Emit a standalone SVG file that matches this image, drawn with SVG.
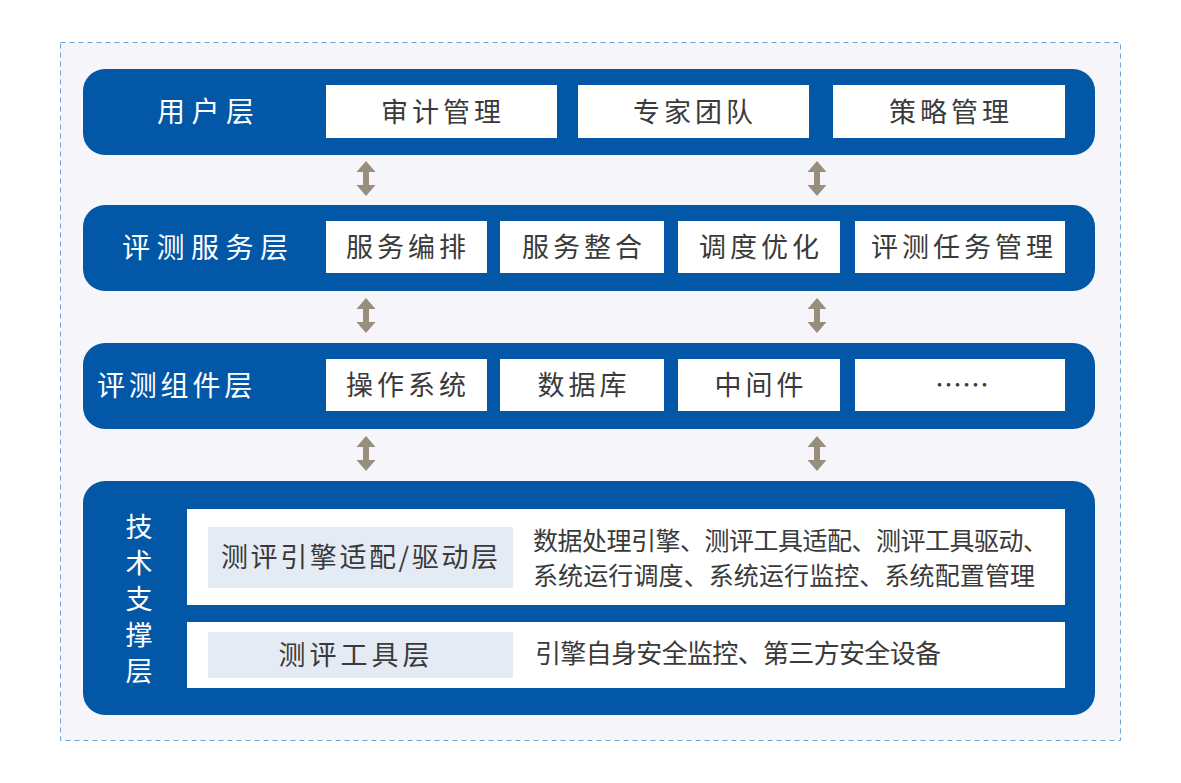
<svg xmlns="http://www.w3.org/2000/svg" width="1181" height="783" viewBox="0 0 1181 783">
<style>
.panel{fill:#0257a7;}
.box{fill:#ffffff;}
.lbox{fill:#e4ebf5;}
.t{font-family:"Noto Sans CJK SC","Noto Sans",sans-serif;}
.title{fill:#ffffff;font-size:28px;}
.bt{fill:#3a3a3a;font-size:27px;letter-spacing:4px;text-anchor:middle;}
.st{fill:#3a3a3a;font-size:25px;}
.arr{fill:#978e7c;}
</style>
<defs>
<path id="dbl" d="M0,0 L9.5,11 L3,11 L3,24 L9.5,24 L0,35 L-9.5,24 L-3,24 L-3,11 L-9.5,11 Z"/>
</defs>
<rect x="60.5" y="42.5" width="1060" height="698" fill="#f5f5fa" stroke="#6aa3d8" stroke-width="1" stroke-dasharray="5,4"/>

<g id="layer-user">
<rect class="panel" x="83" y="69" width="1012" height="86" rx="22"/>
<text class="t title" x="157" y="122" style="letter-spacing:6.5px">用户层</text>
<rect class="box" x="326" y="85" width="231" height="53"/>
<text class="t bt" x="443" y="122">审计管理</text>
<rect class="box" x="578" y="85" width="231" height="53"/>
<text class="t bt" x="695" y="122">专家团队</text>
<rect class="box" x="833" y="85" width="232" height="53"/>
<text class="t bt" x="951" y="122">策略管理</text>
</g>

<g id="layer-service">
<rect class="panel" x="83" y="205" width="1012" height="86" rx="22"/>
<text class="t title" x="122" y="258" style="letter-spacing:6.5px">评测服务层</text>
<rect class="box" x="326" y="221" width="161" height="52"/>
<text class="t bt" x="408" y="257">服务编排</text>
<rect class="box" x="500" y="221" width="164" height="52"/>
<text class="t bt" x="584" y="257">服务整合</text>
<rect class="box" x="678" y="221" width="162" height="52"/>
<text class="t bt" x="761" y="257">调度优化</text>
<rect class="box" x="855" y="221" width="210" height="52"/>
<text class="t bt" x="964" y="257">评测任务管理</text>
</g>

<g id="layer-component">
<rect class="panel" x="83" y="343" width="1012" height="86" rx="22"/>
<text class="t title" x="97" y="396" style="letter-spacing:3.8px">评测组件层</text>
<rect class="box" x="326" y="359" width="161" height="52"/>
<text class="t bt" x="408" y="395">操作系统</text>
<rect class="box" x="500" y="359" width="164" height="52"/>
<text class="t bt" x="584" y="395">数据库</text>
<rect class="box" x="678" y="359" width="162" height="52"/>
<text class="t bt" x="761" y="395">中间件</text>
<rect class="box" x="855" y="359" width="210" height="52"/>
<text class="t bt" x="962" y="395" style="letter-spacing:0">……</text>
</g>

<g id="layer-tech">
<rect class="panel" x="83" y="481" width="1012" height="234" rx="22"/>
<g class="t title" text-anchor="middle" style="font-size:27px">
<text x="139" y="537">技</text>
<text x="139" y="573">术</text>
<text x="139" y="609">支</text>
<text x="139" y="645">撑</text>
<text x="139" y="681">层</text>
</g>
<g id="engine-layer">
<rect class="box" x="187" y="509" width="878" height="96"/>
<rect class="lbox" x="208" y="527" width="305" height="61"/>
<text class="t st" x="221" y="567" style="font-size:27px" textLength="277" lengthAdjust="spacing">测评引擎适配/驱动层</text>
<text class="t st" x="533" y="550" textLength="515" lengthAdjust="spacing">数据处理引擎、测评工具适配、测评工具驱动、</text>
<text class="t st" x="533" y="585" textLength="502" lengthAdjust="spacing">系统运行调度、系统运行监控、系统配置管理</text>
</g>
<g id="tool-layer">
<rect class="box" x="187" y="622" width="878" height="66"/>
<rect class="lbox" x="208" y="632" width="305" height="46"/>
<text class="t bt" x="356" y="665">测评工具层</text>
<text class="t st" x="535" y="663" style="font-size:26px" textLength="406" lengthAdjust="spacing">引擎自身安全监控、第三方安全设备</text>
</g>
</g>

<g id="connectors" class="arr">
<use href="#dbl" x="366" y="161"/>
<use href="#dbl" x="817" y="161"/>
<use href="#dbl" x="366" y="298"/>
<use href="#dbl" x="817" y="298"/>
<use href="#dbl" x="366" y="436"/>
<use href="#dbl" x="817" y="436"/>
</g>
</svg>
